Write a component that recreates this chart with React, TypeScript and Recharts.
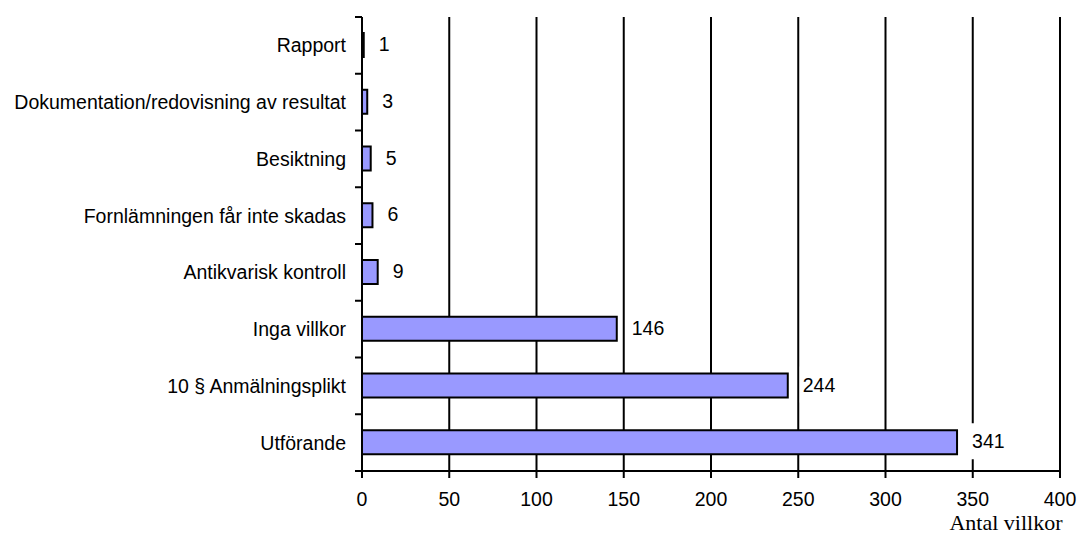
import React from "react";
import {
  BarChart,
  Bar,
  XAxis,
  YAxis,
  CartesianGrid,
  LabelList,
  Label,
} from "recharts";

const categories = [
  "Rapport",
  "Dokumentation/redovisning av resultat",
  "Besiktning",
  "Fornlämningen får inte skadas",
  "Antikvarisk kontroll",
  "Inga villkor",
  "10 § Anmälningsplikt",
  "Utförande",
];
const counts = [1, 3, 5, 6, 9, 146, 244, 341];
const xTicks = [0, 50, 100, 150, 200, 250, 300, 350, 400];

const data = categories.map((name, i) => ({ name, count: counts[i] }));

const W = 1080;
const H = 536;
const xAxisHeight = 30;
const margin = { top: 17, right: 20, bottom: 35, left: 0 };
const axisWidth = 362;
const band = (H - margin.top - margin.bottom - xAxisHeight) / categories.length;
const font = "Arial, 'Liberation Sans', sans-serif";
const fontSize = 19.5;

const CategoryTick = (props: any) => {
  const { y, payload, index } = props;
  const ax = axisWidth;
  return (
    <g>
      <line x1={ax - 7} x2={ax} y1={y - band / 2} y2={y - band / 2} stroke="#000" strokeWidth={2} />
      {index === categories.length - 1 && (
        <line x1={ax - 7} x2={ax} y1={y + band / 2} y2={y + band / 2} stroke="#000" strokeWidth={2} />
      )}
      <text
        x={ax - 16}
        y={y}
        textAnchor="end"
        dominantBaseline="central"
        fontFamily={font}
        fontSize={fontSize}
        fill="#000"
      >
        {payload.value}
      </text>
    </g>
  );
};

const ValueLabel = (props: any) => {
  const { x, y, width, height, value } = props;
  const tx = x + width + 15;
  const cy = y + height / 2 - 1;
  const tw = String(value).length * 11;
  return (
    <g>
      <rect x={tx - 3} y={cy - 18} width={tw + 6} height={36} fill="#fff" />
      <text
        x={tx}
        y={cy}
        dominantBaseline="central"
        fontFamily={font}
        fontSize={fontSize}
        fill="#000"
      >
        {value}
      </text>
    </g>
  );
};

export default function App() {
  return (
    <div style={{ width: W, height: H, background: "#fff" }}>
      <style>{`body{margin:0}`}</style>
      <BarChart width={W} height={H} data={data} layout="vertical" margin={margin}>
        <CartesianGrid horizontal={false} stroke="#000" strokeWidth={2} />
        <XAxis
          type="number"
          domain={[0, 400]}
          ticks={xTicks}
          interval={0}
          height={xAxisHeight}
          stroke="#000"
          strokeWidth={2}
          tickSize={7}
          tickMargin={14}
          tick={{ fill: "#000", fontFamily: font, fontSize }}
        >
          <Label
            content={(p: any) => {
              const vb = p.viewBox;
              return (
                <text
                  x={vb.x + vb.width - 54}
                  y={vb.y + 59}
                  textAnchor="middle"
                  fontFamily="'Times New Roman', 'Liberation Serif', serif"
                  fontSize={22}
                  fill="#000"
                >
                  Antal villkor
                </text>
              );
            }}
          />
        </XAxis>
        <YAxis
          type="category"
          dataKey="name"
          width={axisWidth}
          interval={0}
          stroke="#000"
          strokeWidth={2}
          tickLine={false}
          tick={<CategoryTick />}
        />
        <Bar
          dataKey="count"
          fill="#9999FF"
          stroke="#000"
          strokeWidth={2}
          barSize={24}
          isAnimationActive={false}
        >
          <LabelList dataKey="count" content={<ValueLabel />} />
        </Bar>
      </BarChart>
    </div>
  );
}
